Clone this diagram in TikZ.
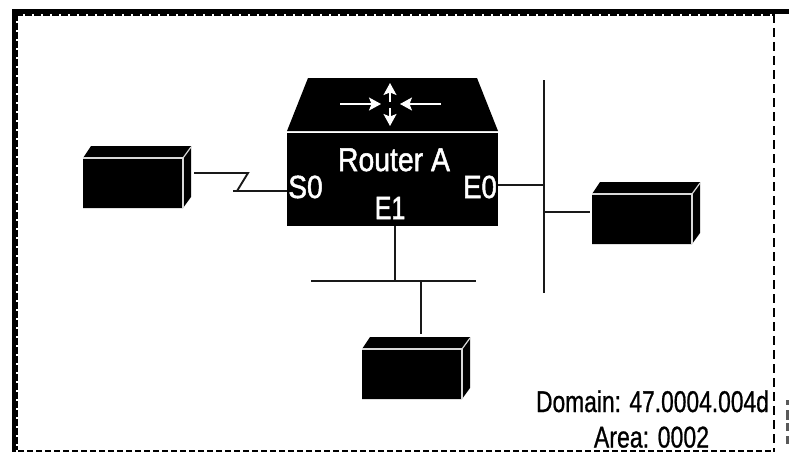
\documentclass[tikz,border=0pt]{standalone}
\usepackage{fontspec}
\setmainfont{Liberation Sans}
\newfontfamily\boldish[FakeBold=1.6]{Liberation Sans}
\newfontfamily\boldishb[FakeBold=0.9]{Liberation Sans}
\usetikzlibrary{arrows.meta}
\tikzset{
  wire/.style={draw=black!90,line width=1.9pt},
  whiteedge/.style={draw=white!85!black,line width=1.2pt},
  tiparrow/.style={draw=white,line width=1.5pt,-{Stealth[length=12pt,width=13pt,inset=2.5pt]}},
  lbl/.style={inner sep=0pt,anchor=base,font=\boldishb\fontsize{30}{30}\selectfont},
  rlbl/.style={inner sep=0pt,anchor=base,text=white,font=\boldish\fontsize{32}{32}\selectfont},
  frametop/.style={fill=black},
}
\newcommand{\devbox}[3]{%
  % #1 name, #2 front left x, #3 front top y
  \node[fill=black,inner sep=0pt,minimum width=100pt,minimum height=50pt,anchor=north west] (#1) at (#2,#3) {};
  \fill[black] (#2,#3) -- ++(8,-12) -- ++(100,0) -- ++(0,51) -- ++(-8,11) -- ++(-100,0) -- cycle;
  \draw[whiteedge] (#2,#3) -- ++(100,0) -- ++(0,50);
  \draw[whiteedge] (#2+100,#3) -- ++(8,-11);
}
\begin{document}
\begin{tikzpicture}[x=1pt,y=-1pt]
\useasboundingbox (0,0) rectangle (789,452);
% frame
\fill[frametop] (12,9) rectangle (789,14);
\fill[frametop] (12,9) rectangle (16,452);
\draw[line width=2pt,dash pattern=on 7pt off 2pt] (16,15) -- (774,15);
\draw[line width=2pt,dash pattern=on 7pt off 2pt] (17,14) -- (17,450);
\draw[line width=1.6pt,dash pattern=on 9pt off 5pt] (774,14) -- (774,452);
\draw[line width=2pt,dash pattern=on 6pt off 3pt] (18,450.5) -- (774,450.5);
% clipped margin marks
\fill[black!65] (786,400) rectangle (789,405);
\fill[black!65] (786,410) rectangle (789,420);
\fill[black!65] (786,423) rectangle (789,431);
\fill[black!65] (786,436) rectangle (789,444);
% router
\fill[black] (308,78) -- (477,78) -- (498,131) -- (287,131) -- cycle;
\node[fill=black,inner sep=0pt,minimum width=211pt,minimum height=93pt] (router) at (392.5,179.5) {};
\node[rlbl,font=\boldish\fontsize{33}{33}\selectfont,xscale=.86] (rname) at (394,171) {Router A};
\node[rlbl,xscale=.88] (s0) at (305.5,198) {S0};
\node[rlbl,xscale=.86] (e0) at (480,198) {E0};
\node[rlbl,xscale=.78] (e1) at (390,219) {E1};
% router arrows
\coordinate (al) at (340,104); \coordinate (ar) at (381,104);
\coordinate (bl) at (441,104); \coordinate (br) at (400,104);
\coordinate (cl) at (390,102); \coordinate (cr) at (390,83);
\coordinate (dl) at (390,108); \coordinate (dr) at (390,126);
\draw[tiparrow] (al) -- (ar);
\draw[tiparrow] (bl) -- (br);
\draw[tiparrow] (cl) -- (cr);
\draw[tiparrow] (dl) -- (dr);
% devices
\devbox{left}{83}{158}
\devbox{right}{592}{194}
\devbox{bottom}{362}{349}
% text
\node[lbl,xscale=.76] (domain) at (652.5,412) {Domain: 47.0004.004d};
\node[lbl,xscale=.77] (area) at (651.5,447.5) {Area: 0002};
% connectors
\coordinate (bus1t) at (544,80); \coordinate (bus1b) at (544,293);
\coordinate (bus2l) at (311,281); \coordinate (bus2r) at (476,281);
\coordinate (leftend) at (194,173);
\coordinate (z1) at (248,173); \coordinate (z2) at (237,191);
\coordinate (z3) at (233,191);
\coordinate (e0y) at (0,184.7);
\coordinate (rightend) at (590,212);
\coordinate (botend) at (421,334);
\draw[wire] (bus1t) -- (bus1b);
\draw[wire] (bus2l) -- (bus2r);
\draw[wire] (router.east |- e0y) -- (bus1t |- e0y);
\draw[wire] (bus1t |- rightend) -- (rightend);
\draw[wire] (router.south -| 395,0) -- (395,281);
\draw[wire] (botend |- bus2l) -- (botend);
\draw[wire] (leftend) -- (z1) -- (z2);
\draw[wire] (z3) -- (router.west |- z3);
\end{tikzpicture}
\end{document}
